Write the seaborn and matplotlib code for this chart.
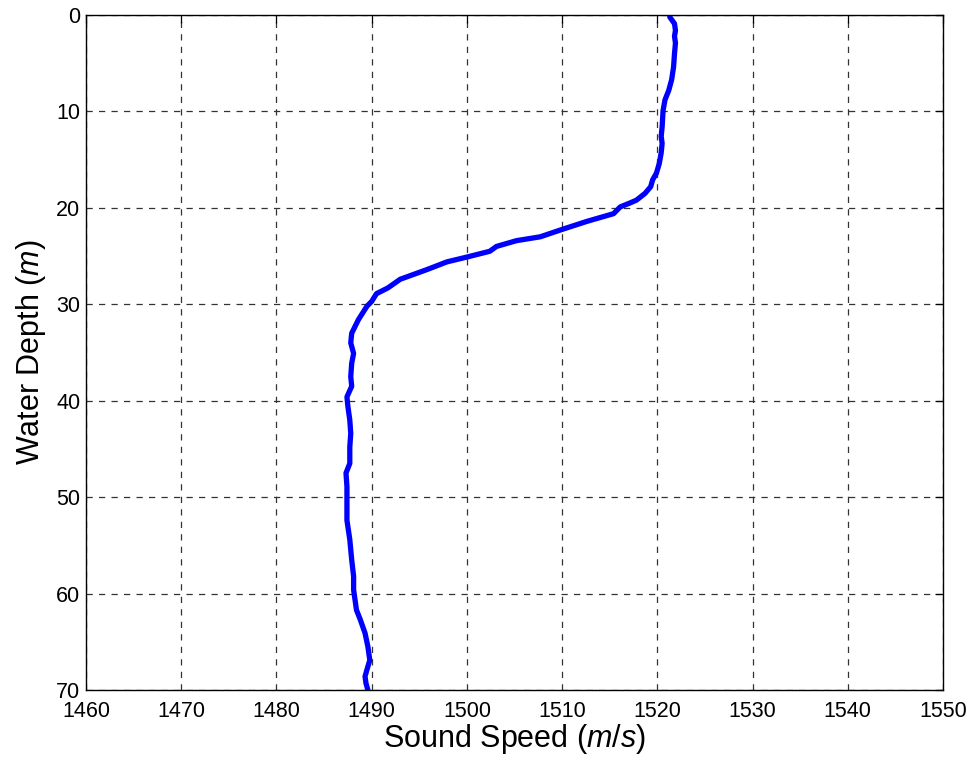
import matplotlib
matplotlib.use("Agg")
import matplotlib.pyplot as plt
import seaborn as sns
import pandas as pd

# Sound speed profile: depth (m) and sound speed (m/s)
depth = [0.2, 0.9, 1.6, 2.2, 2.9, 4.0, 5.4, 6.7, 7.8, 8.8, 9.9, 11.6, 12.6,
         13.3, 14.3, 15.4, 16.4, 17.1, 17.8, 18.5, 19.2, 19.5, 19.9, 20.6,
         21.4, 22.2, 23.0, 23.4, 24.0, 24.5, 25.1, 25.6, 26.4, 27.4, 28.3,
         28.9, 29.7, 30.2, 31.6, 33.0, 34.0, 35.1, 36.1, 37.5, 38.5, 39.6,
         40.6, 42.0, 43.4, 44.8, 46.5, 47.5, 48.9, 50.3, 52.4, 54.4, 56.5,
         58.2, 59.6, 61.7, 62.7, 64.1, 65.5, 66.9, 67.9, 68.6, 69.3, 70.0]
speed = [1521.3, 1521.8, 1521.9, 1521.8, 1521.9, 1521.8, 1521.7, 1521.5,
         1521.2, 1520.8, 1520.6, 1520.5, 1520.4, 1520.5, 1520.4, 1520.2,
         1519.9, 1519.5, 1519.3, 1518.7, 1517.8, 1517.1, 1516.1, 1515.4,
         1512.6, 1510.1, 1507.7, 1505.2, 1503.1, 1502.4, 1500.0, 1497.9,
         1495.8, 1493.0, 1491.7, 1490.5, 1490.0, 1489.5, 1488.6, 1487.9,
         1487.8, 1488.1, 1487.9, 1487.8, 1487.9, 1487.4, 1487.5, 1487.7,
         1487.8, 1487.7, 1487.7, 1487.3, 1487.4, 1487.4, 1487.4, 1487.7,
         1487.9, 1488.1, 1488.1, 1488.4, 1488.8, 1489.3, 1489.6, 1489.8,
         1489.5, 1489.3, 1489.4, 1489.6]

x_ticks = [1460, 1470, 1480, 1490, 1500, 1510, 1520, 1530, 1540, 1550]
y_ticks = [0, 10, 20, 30, 40, 50, 60, 70]

sns.set_style("white")
plt.rcParams["font.family"] = ["Liberation Sans", "DejaVu Sans"]
plt.rcParams["mathtext.fontset"] = "custom"
plt.rcParams["mathtext.rm"] = "Liberation Sans"
plt.rcParams["mathtext.it"] = "Liberation Sans:italic"

df = pd.DataFrame({"speed": speed, "depth": depth})

fig = plt.figure(figsize=(9.71, 7.59), dpi=100)
ax = fig.add_axes([0.0886, 0.0909, 0.8826, 0.8893])

sns.lineplot(data=df, x="speed", y="depth", sort=False, estimator=None,
             color="#0000ff", linewidth=3.8, ax=ax)
ax.lines[-1].set_solid_joinstyle("round")
ax.lines[-1].set_solid_capstyle("round")

ax.set_xlim(1460, 1550)
ax.set_ylim(70, 0)
ax.set_xticks(x_ticks)
ax.set_yticks(y_ticks)
ax.set_xticklabels([str(v) for v in x_ticks])
ax.set_yticklabels([str(v) for v in y_ticks])

ax.grid(True, color="#333333", linestyle=(0, (5, 5)), linewidth=0.9)
ax.tick_params(direction="in", length=6, width=0.9, top=True, right=True,
               labelsize=15.5, colors="black", labelcolor="black", pad=4)
ax.tick_params(axis="x", pad=8)
for sp in ax.spines.values():
    sp.set_visible(True)
    sp.set_color("black")
    sp.set_linewidth(1.0)

ax.set_xlabel("Sound Speed ($m/s$)", fontsize=22, labelpad=0, color="black")
ax.set_ylabel("Water Depth ($m$)", fontsize=22, labelpad=6, color="black")

fig.savefig("out.png", dpi=100, facecolor="white")
